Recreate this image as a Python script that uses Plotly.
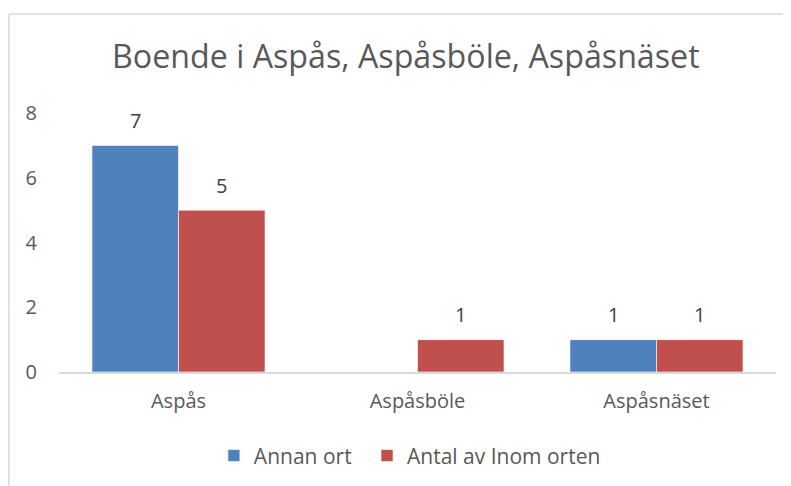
import plotly.graph_objects as go

categories = ["Aspås", "Aspåsböle", "Aspåsnäset"]
annan_ort = [7, 0, 1]
inom_orten = [5, 1, 1]
y_ticks = [0, 2, 4, 6, 8]

FONT = "Open Sans"
GRAY = "#595959"

series = [("Annan ort", annan_ort, "#4f81bd", "legend"),
          ("Antal av Inom orten", inom_orten, "#c0504d", "legend2")]

fig = go.Figure()
for name, vals, col, leg in series:
    fig.add_trace(go.Bar(
        x=categories, y=vals, name=name, legend=leg, showlegend=True,
        marker=dict(color=col, line=dict(color="#ffffff", width=0.6)),
    ))

BAR_PX = 86.5
annotations = []
for i, (name, vals, col, leg) in enumerate(series):
    for cat, v in zip(categories, vals):
        if v:
            annotations.append(dict(
                x=cat, y=v, xref="x", yref="y", text=str(v), showarrow=False,
                xshift=(i - 0.5) * BAR_PX, yshift=25, yanchor="middle",
                font=dict(family=FONT, size=20, color="#404040"),
            ))

legend_style = dict(orientation="h", y=-0.324, yanchor="middle", xanchor="left",
                    font=dict(family=FONT, size=21, color=GRAY), itemwidth=30,
                    bgcolor="rgba(0,0,0,0)", visible=True)

fig.update_layout(
    width=791, height=486,
    margin=dict(l=51, r=23, t=105, b=122),
    paper_bgcolor="white", plot_bgcolor="white",
    showlegend=True,
    barmode="group", bargap=0.276, bargroupgap=0,
    font=dict(family=FONT, color=GRAY),
    title=dict(text="Boende i Aspås, Aspåsböle, Aspåsnäset", x=0.503, xanchor="center",
               y=0.899, yanchor="middle", font=dict(family=FONT, size=32.2, color=GRAY)),
    xaxis=dict(showgrid=False, showline=True, linecolor="#d9d9d9", linewidth=1.5,
               ticks="", tickfont=dict(family=FONT, size=20, color=GRAY),
               ticklabelstandoff=10),
    yaxis=dict(range=[0, 8], tickvals=y_ticks, showgrid=False, showline=False,
               zeroline=False, ticks="", tickfont=dict(family=FONT, size=20, color=GRAY),
               ticklabelstandoff=21),
    legend=dict(x=0.216, **legend_style),
    legend2=dict(x=0.4296, **legend_style),
    annotations=annotations,
    shapes=[
        dict(type="line", xref="paper", yref="paper", x0=-0.0699, x1=1.1, y0=1.382, y1=1.382,
             line=dict(color="#d9d9d9", width=1.5)),
        dict(type="line", xref="paper", yref="paper", x0=-0.0699, x1=-0.0699, y0=1.382, y1=-0.6,
             line=dict(color="#d9d9d9", width=1.5)),
    ],
)

fig.write_html("out.html")
